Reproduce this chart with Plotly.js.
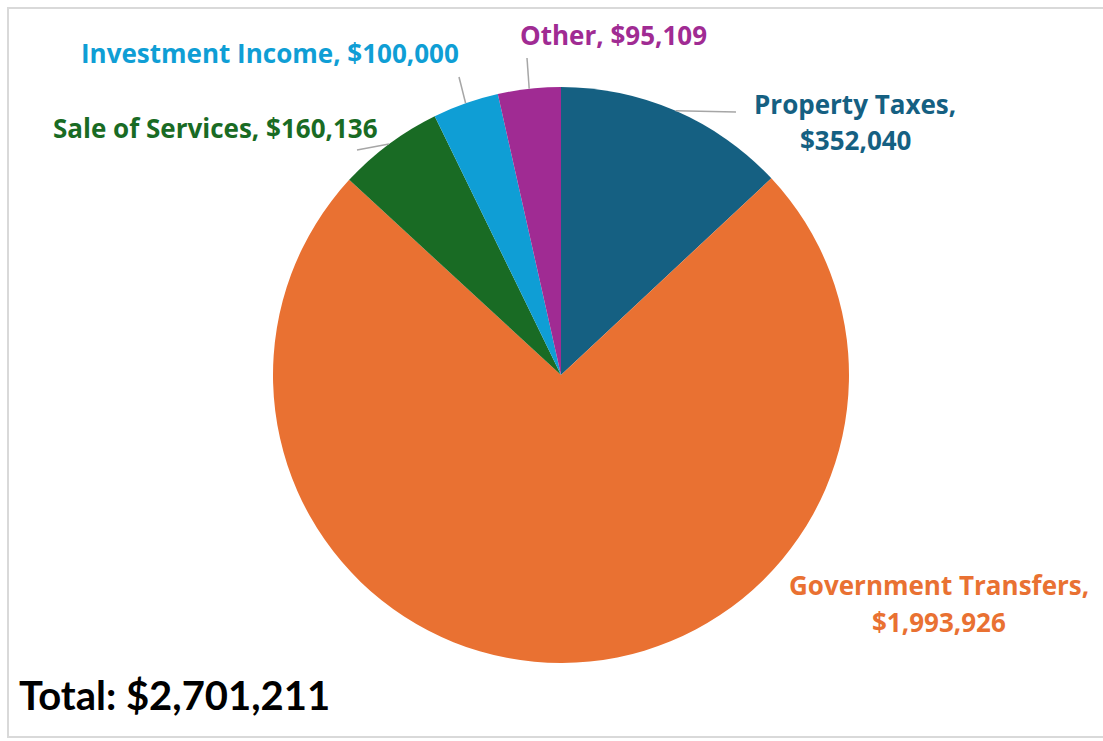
<!DOCTYPE html>
<html>
<head>
<meta charset="utf-8">
<script src="https://cdn.plot.ly/plotly-3.0.1.min.js"></script>
<style>
html,body{margin:0;padding:0;background:#fff;}
#chart{width:1103px;height:741px;}
</style>
</head>
<body>
<div id="chart"></div>
<script>
// ---- data ----
const categories = ["Property Taxes", "Government Transfers", "Sale of Services", "Investment Income", "Other"];
const values = [352040, 1993926, 160136, 100000, 95109];
const colors = ["#156082", "#E97132", "#196B24", "#0F9ED5", "#A02B93"];
const totalLabel = "Total: $2,701,211";

// ---- layout constants ----
const W = 1103, H = 741;
const CX = 561, CY = 375, R = 288;
const fmt = v => "$" + v.toLocaleString("en-US");
const px = x => x / W;
const py = y => 1 - y / H;

// label placement (pixel centres) and leader-line outer ends
const labelCfg = {
  "Property Taxes": {lines: [[855, 104], [855, 140]], split: true, lineEnd: [736, 112]},
  "Government Transfers": {lines: [[939, 585], [939, 622]], split: true, lineEnd: null},
  "Sale of Services": {lines: [[215, 128]], split: false, lineEnd: [357, 150]},
  "Investment Income": {lines: [[270, 53]], split: false, lineEnd: [459, 77]},
  "Other": {lines: [[613, 35]], split: false, lineEnd: [527, 58]}
};

const total = values.reduce((a, b) => a + b, 0);
const annotations = [];
const shapes = [];
let cum = 0;
categories.forEach((cat, i) => {
  const mid = (cum + values[i] / 2) / total;
  cum += values[i];
  const th = 2 * Math.PI * mid;
  const ex = CX + R * Math.sin(th), ey = CY - R * Math.cos(th);
  const cfg = labelCfg[cat];
  const texts = cfg.split ? [cat + ",", fmt(values[i])] : [cat + ", " + fmt(values[i])];
  texts.forEach((t, k) => {
    annotations.push({
      x: px(cfg.lines[k][0]), y: py(cfg.lines[k][1]), xref: "paper", yref: "paper",
      text: t, showarrow: false, xanchor: "center", yanchor: "middle",
      font: {family: "'Open Sans', Lato, sans-serif", size: 26, color: colors[i], weight: 700}
    });
  });
  if (cfg.lineEnd) {
    shapes.push({
      type: "line", xref: "paper", yref: "paper",
      x0: px(ex), y0: py(ey), x1: px(cfg.lineEnd[0]), y1: py(cfg.lineEnd[1]),
      line: {color: "#a6a6a6", width: 1.5}
    });
  }
});

annotations.push({
  x: px(17), y: py(695), xref: "paper", yref: "paper", text: totalLabel,
  showarrow: false, xanchor: "left", yanchor: "middle",
  font: {family: "Lato, 'Open Sans', sans-serif", size: 40, color: "#000", weight: 700}
});

shapes.push({
  type: "rect", xref: "paper", yref: "paper",
  x0: px(8), y0: py(737), x1: px(1110), y1: py(8),
  line: {color: "#d9d9d9", width: 2}, fillcolor: "rgba(0,0,0,0)"
});

const trace = {
  type: "pie",
  labels: categories,
  values: values,
  sort: false,
  direction: "clockwise",
  rotation: 0,
  textinfo: "none",
  hoverinfo: "label+value",
  marker: {colors: colors, line: {width: 0}},
  domain: {x: [px(CX - R), px(CX + R)], y: [py(CY + R), py(CY - R)]},
  showlegend: false
};

Plotly.newPlot("chart", [trace], {
  width: W, height: H,
  margin: {l: 0, r: 0, t: 0, b: 0},
  paper_bgcolor: "#fff",
  showlegend: false,
  annotations: annotations,
  shapes: shapes
}, {staticPlot: true});
</script>
</body>
</html>
